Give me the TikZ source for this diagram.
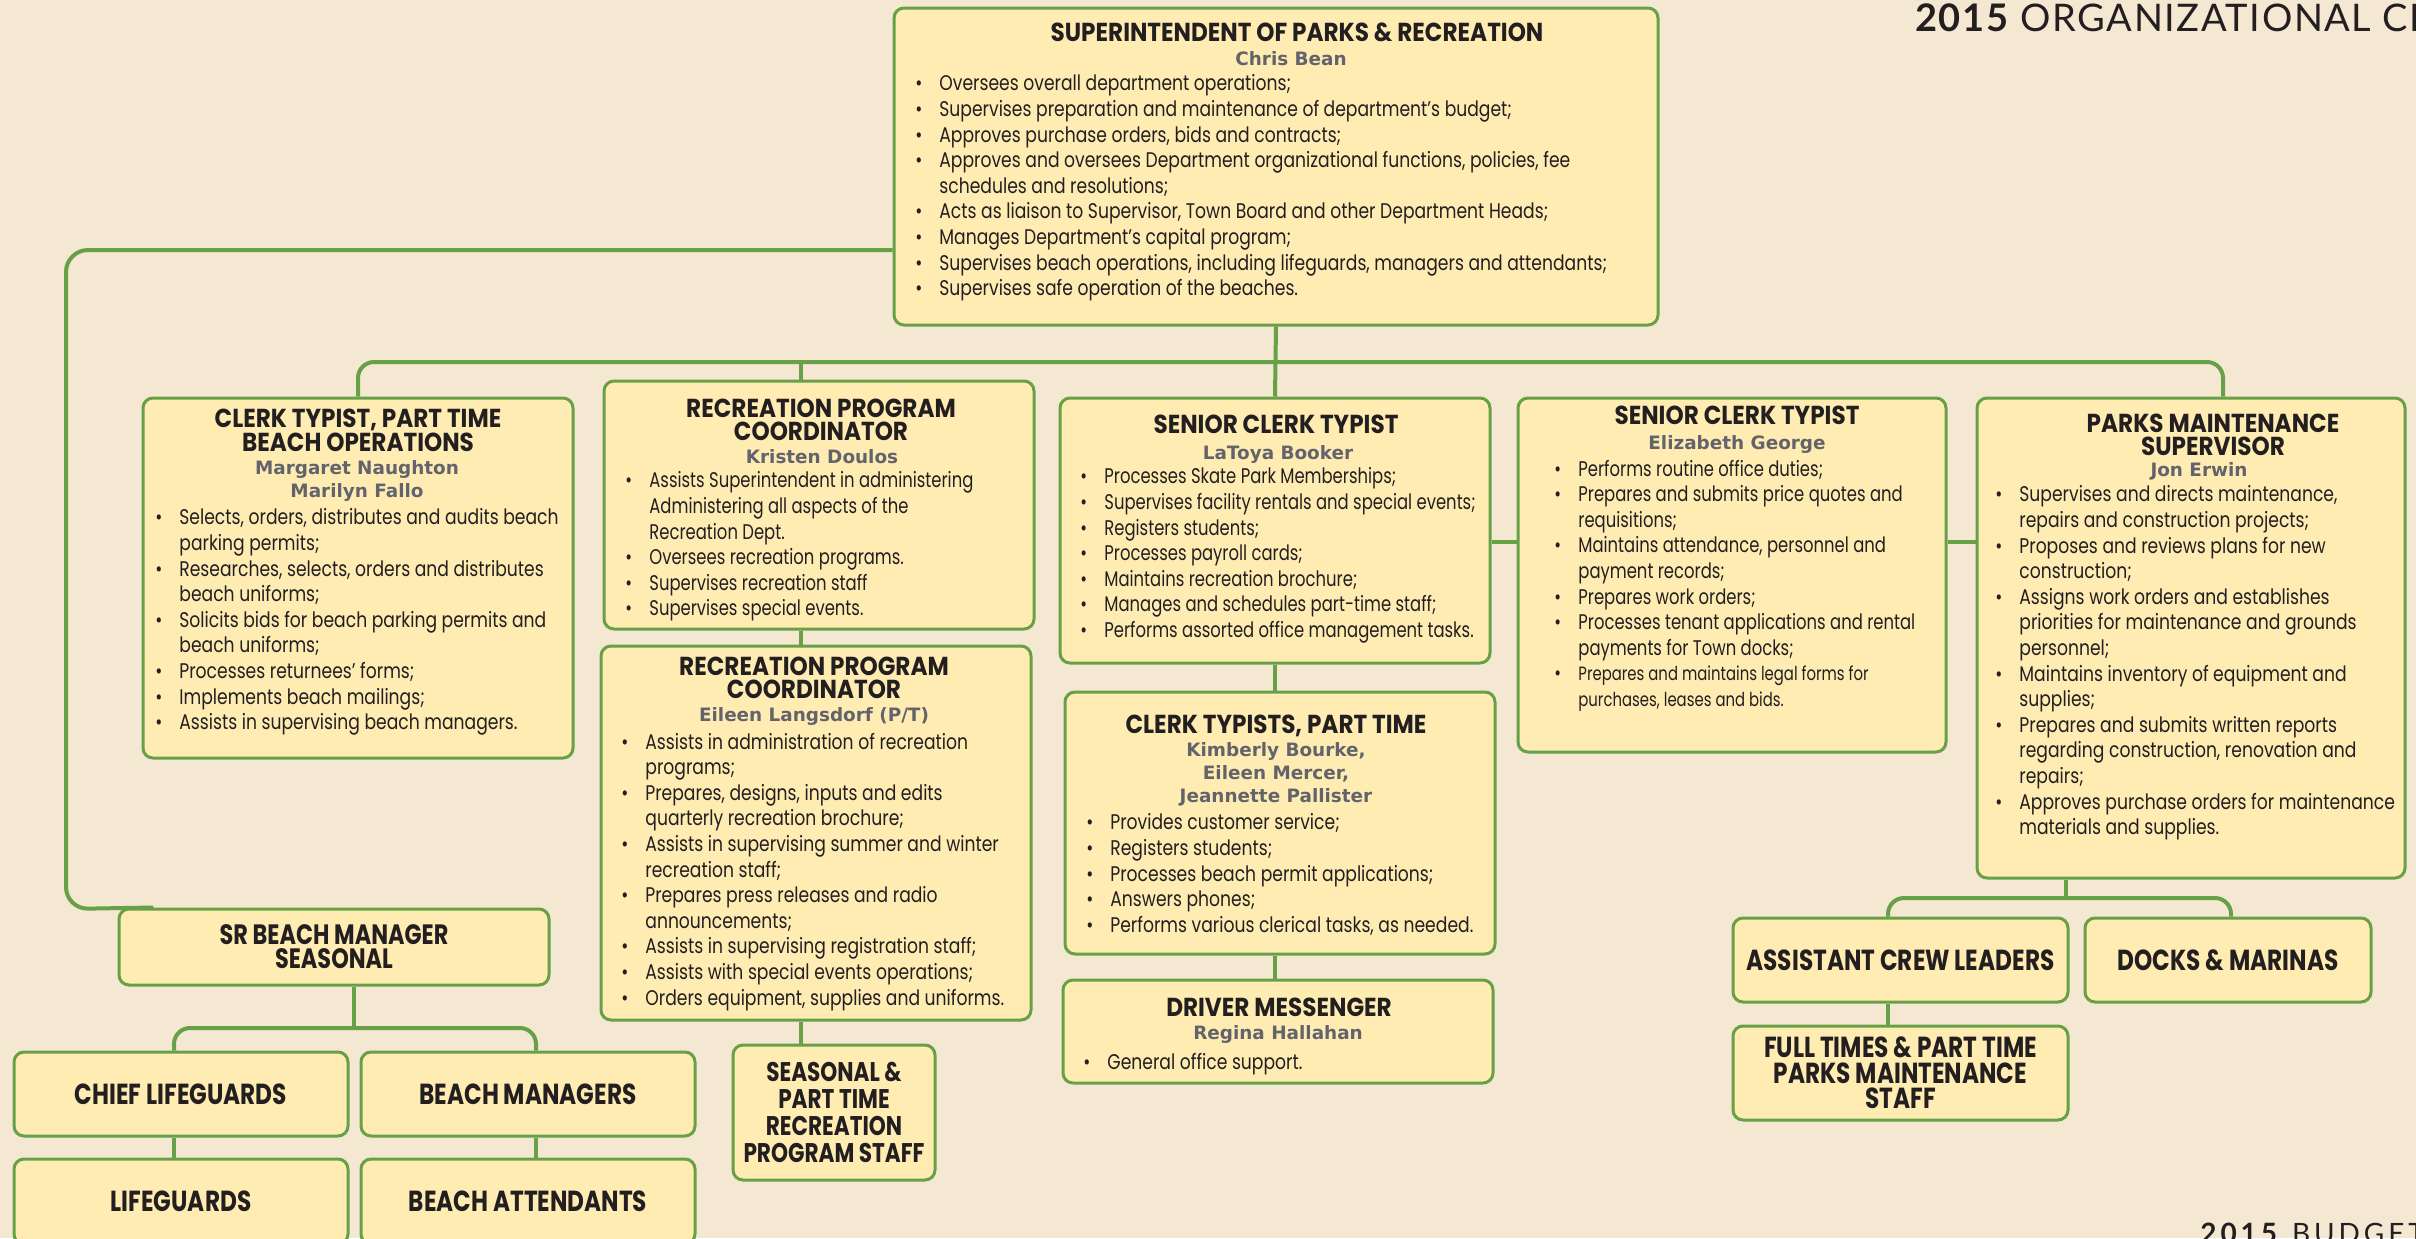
\documentclass[tikz,border=0pt]{standalone}
\usepackage{fontspec}
\usepackage{graphicx}
\usetikzlibrary{fit}
\setmainfont{Poppins}
\newfontfamily\bodyf{Poppins}[FakeStretch=0.81]
\newfontfamily\bodyn{Poppins}[FakeStretch=0.775]
\newfontfamily\hdrf{Poppins}[FakeStretch=0.89]
\newfontfamily\lblf{Poppins}[FakeStretch=0.8]
\newfontfamily\namef{DejaVu Sans}
\newfontfamily\ttlf{Lato}
\definecolor{bg}{HTML}{F5E8D3}
\definecolor{boxfill}{HTML}{FFECB3}
\definecolor{grn}{HTML}{68A048}
\definecolor{ink}{HTML}{231F20}
\definecolor{namegray}{HTML}{62636B}
\newcommand\bl{\makebox[12pt][l]{\textbullet}}
\newcommand\cl{\hspace*{12pt}}
\tikzset{
  box/.style={draw=grn, line width=1.5pt, fill=boxfill, rounded corners=5pt, inner sep=0pt},
  conn/.style={draw=grn, line width=2pt, rounded corners=8pt},
  hdr/.style={font=\hdrf\bfseries\fontsize{13}{11.2}\selectfont, align=center, text=ink, inner sep=0pt, anchor=north, execute at begin node={\rule{0pt}{10pt}}},
  nm/.style={font=\namef\bfseries\fontsize{9.2}{11.5}\selectfont, align=center, text=namegray, inner sep=0pt, anchor=north, yshift=-0.8pt, execute at begin node={\rule{0pt}{9pt}}},
  lst/.style={font=\bodyf\fontsize{10.6}{12.8}\selectfont, align=left, text=ink, inner sep=0pt, anchor=north west, xshift=-1pt, yshift=-2.7pt, execute at begin node={\rule{0pt}{9pt}}},
  lstn/.style={lst, font=\bodyn\fontsize{10.6}{12.8}\selectfont},
  lbl/.style={font=\lblf\bfseries\fontsize{14.5}{#1}\selectfont, align=center, text=ink, inner sep=0pt},
  lbl/.default=12
}
\begin{document}
\begin{tikzpicture}[x=0.5pt, y=-0.5pt]
\useasboundingbox (0,0) rectangle (2416,1238);
\fill[bg] (0,0) rectangle (2416,1238);

% ---------- boxes ----------
\node[box, fit={(894,8) (1658,325)}] (sup) {};
\node[box, fit={(143,398) (573,758)}] (ctb) {};
\node[box, fit={(604,381) (1034,629)}] (rpc1) {};
\node[box, fit={(601,646) (1031,1020)}] (rpc2) {};
\node[box, fit={(733,1045) (935,1180)}] (seas) {};
\node[box, fit={(1060,398) (1490,663)}] (sct1) {};
\node[box, fit={(1065,692) (1495,954)}] (ctp) {};
\node[box, fit={(1063,980) (1493,1083)}] (drv) {};
\node[box, fit={(1518,398) (1946,752)}] (sct2) {};
\node[box, fit={(1977,398) (2405,878)}] (pms) {};
\node[box, fit={(119,909) (549,985)}] (srb) {};
\node[box, fit={(14,1052) (348,1136)}] (chf) {};
\node[box, fit={(361,1052) (695,1136)}] (bm) {};
\node[box, fit={(14,1159) (348,1244)}] (lg) {};
\node[box, fit={(361,1159) (695,1244)}] (ba) {};
\node[box, fit={(1733,918) (2068,1002)}] (acl) {};
\node[box, fit={(2085,918) (2371,1002)}] (dm) {};
\node[box, fit={(1733,1026) (2068,1120)}] (ft) {};

% ---------- connectors ----------
\draw[conn] (ctb.north) |- (2223,362) -- (pms.north -| 2223,0);
\draw[conn] (sup.south) -- (sct1.north);
\draw[conn] (rpc1.north -| 801,0) -- (801,362);
\draw[conn, rounded corners=11pt] (sup.west |- 0,250) -- (66,250) -- (66,909) -- ([xshift=18pt]srb.north west);
\draw[conn] (sct1.east |- 0,542) -- (sct2.west |- 0,542);
\draw[conn] (sct2.east |- 0,542) -- (pms.west |- 0,542);
\draw[conn] (rpc1.south -| 801,0) -- (rpc2.north -| 801,0);
\draw[conn] (rpc2.south -| 801,0) -- (seas.north -| 801,0);
\draw[conn] (sct1.south) -- (ctp.north -| sct1.south);
\draw[conn] (ctp.south -| sct1.south) -- (drv.north -| sct1.south);
\draw[conn] (srb.south -| 354,0) -- (354,1028);
\draw[conn] (chf.north -| 174,0) |- (536,1028) -- (bm.north -| 536,0);
\draw[conn] (chf.south -| 174,0) -- (lg.north -| 174,0);
\draw[conn] (bm.south -| 536,0) -- (ba.north -| 536,0);
\draw[conn] (pms.south -| 2066,0) -- (2066,898);
\draw[conn] (acl.north -| 1888,0) |- (2231,898) -- (dm.north -| 2231,0);
\draw[conn] (acl.south -| 1888,0) -- (ft.north -| 1888,0);

% ---------- titles ----------
\node[anchor=base west, inner sep=0pt, text=ink, font=\ttlf\fontsize{19}{20}\selectfont\addfontfeatures{LetterSpace=4}] (ttl) at (1915,31) {\textbf{2015} ORGANIZATIONAL CHART};
\node[anchor=north west, inner sep=0pt, text=ink, font=\ttlf\fontsize{14}{16}\selectfont\addfontfeatures{LetterSpace=14}] (bud) at (2200,1223) {\textbf{2015} BUDGET};

% ---------- superintendent ----------
\node[hdr] (supH) at (1297,21) {SUPERINTENDENT OF PARKS \& RECREATION};
\node[nm] (supN) at (1291,45) {Chris Bean};
\node[lst] (supL) at (917,69) {%
\bl Oversees overall department operations;\\
\bl Supervises preparation and maintenance of department’s budget;\\
\bl Approves purchase orders, bids and contracts;\\
\bl Approves and oversees Department organizational functions, policies, fee\\
\cl schedules and resolutions;\\
\bl Acts as liaison to Supervisor, Town Board and other Department Heads;\\
\bl Manages Department’s capital program;\\
\bl Supervises beach operations, including lifeguards, managers and attendants;\\
\bl Supervises safe operation of the beaches.};

% ---------- clerk typist beach ----------
\node[hdr, font=\hdrf\bfseries\fontsize{13}{12}\selectfont] (ctbH) at (358,409) {CLERK TYPIST, PART TIME\\BEACH OPERATIONS};
\node[nm] (ctbN) at (357,459) {Margaret Naughton\\Marilyn Fallo};
\node[lst] (ctbL) at (157,503) {%
\bl Selects, orders, distributes and audits beach\\
\cl parking permits;\\
\bl Researches, selects, orders and distributes\\
\cl beach uniforms;\\
\bl Solicits bids for beach parking permits and\\
\cl beach uniforms;\\
\bl Processes returnees’ forms;\\
\bl Implements beach mailings;\\
\bl Assists in supervising beach managers.};

% ---------- rec coordinator 1 ----------
\node[hdr] (rpc1H) at (821,399) {RECREATION PROGRAM\\COORDINATOR};
\node[nm] (rpc1N) at (822,443) {Kristen Doulos};
\node[lstn] (rpc1L) at (627,466) {%
\bl Assists Superintendent in administering\\
\cl Administering all aspects of the\\
\cl Recreation Dept.\\
\bl Oversees recreation programs.\\
\bl Supervises recreation staff\\
\bl Supervises special events.};

% ---------- rec coordinator 2 ----------
\node[hdr] (rpc2H) at (814,657) {RECREATION PROGRAM\\COORDINATOR};
\node[nm] (rpc2N) at (814,701) {Eileen Langsdorf (P/T)};
\node[lst] (rpc2L) at (623,727) {%
\bl Assists in administration of recreation\\
\cl programs;\\
\bl Prepares, designs, inputs and edits\\
\cl quarterly recreation brochure;\\
\bl Assists in supervising summer and winter\\
\cl recreation staff;\\
\bl Prepares press releases and radio\\
\cl announcements;\\
\bl Assists in supervising registration staff;\\
\bl Assists with special events operations;\\
\bl Orders equipment, supplies and uniforms.};

\node[lbl=13.6, font=\lblf\bfseries\fontsize{13.5}{13.6}\selectfont] (seasT) at (seas.center) {SEASONAL \&\\PART TIME\\RECREATION\\PROGRAM STAFF};

% ---------- senior clerk typist 1 ----------
\node[hdr] (sct1H) at (1276,413) {SENIOR CLERK TYPIST};
\node[nm] (sct1N) at (1278,439) {LaToya Booker};
\node[lstn] (sct1L) at (1082,462) {%
\bl Processes Skate Park Memberships;\\
\bl Supervises facility rentals and special events;\\
\bl Registers students;\\
\bl Processes payroll cards;\\
\bl Maintains recreation brochure;\\
\bl Manages and schedules part-time staff;\\
\bl Performs assorted office management tasks.};

% ---------- clerk typists part time ----------
\node[hdr] (ctpH) at (1276,713) {CLERK TYPISTS, PART TIME};
\node[nm] (ctpN) at (1276,741) {Kimberly Bourke,\\Eileen Mercer,\\Jeannette Pallister};
\node[lst] (ctpL) at (1088,808) {%
\bl Provides customer service;\\
\bl Registers students;\\
\bl Processes beach permit applications;\\
\bl Answers phones;\\
\bl Performs various clerical tasks, as needed.};

% ---------- driver messenger ----------
\node[hdr] (drvH) at (1279,996) {DRIVER MESSENGER};
\node[nm] (drvN) at (1278,1019) {Regina Hallahan};
\node[lst] (drvL) at (1085,1046) {\bl General office support.};

% ---------- senior clerk typist 2 ----------
\node[hdr] (sct2H) at (1737,404) {SENIOR CLERK TYPIST};
\node[nm] (sct2N) at (1737,429) {Elizabeth George};
\node[lstn] (sct2L) at (1556,454) {%
\bl Performs routine office duties;\\
\bl Prepares and submits price quotes and\\
\cl requisitions;\\
\bl Maintains attendance, personnel and\\
\cl payment records;\\
\bl Prepares work orders;\\
\bl Processes tenant applications and rental\\
\cl payments for Town docks;\\
\bl {\fontsize{9.6}{12.8}\selectfont Prepares and maintains legal forms for}\\
\cl {\fontsize{9.6}{12.8}\selectfont purchases, leases and bids.}};

% ---------- parks maintenance supervisor ----------
\node[hdr] (pmsH) at (2213,414) {PARKS MAINTENANCE\\SUPERVISOR};
\node[nm] (pmsN) at (2199,456) {Jon Erwin};
\node[lst] (pmsL) at (1997,480) {%
\bl Supervises and directs maintenance,\\
\cl repairs and construction projects;\\
\bl Proposes and reviews plans for new\\
\cl construction;\\
\bl Assigns work orders and establishes\\
\cl priorities for maintenance and grounds\\
\cl personnel;\\
\bl Maintains inventory of equipment and\\
\cl supplies;\\
\bl Prepares and submits written reports\\
\cl regarding construction, renovation and\\
\cl repairs;\\
\bl Approves purchase orders for maintenance\\
\cl materials and supplies.};

% ---------- small boxes ----------
\node[lbl, font=\lblf\bfseries\fontsize{14}{12}\selectfont] (srbT) at (srb.center) {SR BEACH MANAGER\\SEASONAL};
\node[lbl] (chfT) at (chf.center) {CHIEF LIFEGUARDS};
\node[lbl] (bmT) at (bm.center) {BEACH MANAGERS};
\node[lbl] (lgT) at (lg.center) {LIFEGUARDS};
\node[lbl] (baT) at (ba.center) {BEACH ATTENDANTS};
\node[lbl] (aclT) at (acl.center) {ASSISTANT CREW LEADERS};
\node[lbl] (dmT) at (dm.center) {DOCKS \& MARINAS};
\node[lbl=12.7] (ftT) at (ft.center) {FULL TIMES \& PART TIME\\PARKS MAINTENANCE\\STAFF};
\end{tikzpicture}
\end{document}
